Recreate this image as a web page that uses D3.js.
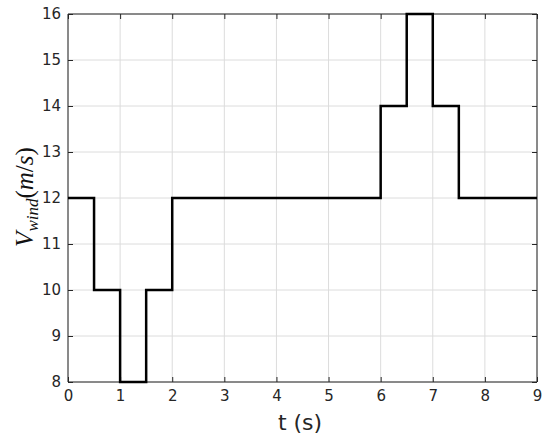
<!DOCTYPE html>
<html><head><meta charset="utf-8">
<script src="https://cdn.jsdelivr.net/npm/d3@7"></script>
<style>body{margin:0;background:#fff}</style>
</head><body>
<svg id="c" width="550" height="440"></svg>
<script>
const times = [0, 0.5, 1, 1.5, 2, 6, 6.5, 7, 7.5, 9];
const speeds = [12, 10, 8, 10, 12, 14, 16, 14, 12, 12];
const xTicks = [0,1,2,3,4,5,6,7,8,9];
const yTicks = [8,9,10,11,12,13,14,15,16];

const svg = d3.select("#c");
const L = 68, R = 537, T = 14, B = 382;
const x = d3.scaleLinear().domain([0,9]).range([L,R]);
const y = d3.scaleLinear().domain([8,16]).range([B,T]);
const axisCol = "#262626";

// grid
const g = svg.append("g");
g.selectAll(".gx").data(xTicks).join("line")
  .attr("x1", d=>x(d)).attr("x2", d=>x(d)).attr("y1", T).attr("y2", B)
  .attr("stroke", "#dcdcdc").attr("stroke-width", 1);
g.selectAll(".gy").data(yTicks).join("line")
  .attr("y1", d=>y(d)).attr("y2", d=>y(d)).attr("x1", L).attr("x2", R)
  .attr("stroke", "#dcdcdc").attr("stroke-width", 1);

// axes
const fnt = "'DejaVu Sans', sans-serif";
const ax = svg.append("g").attr("transform", `translate(0,${B})`)
  .call(d3.axisBottom(x).tickValues(xTicks).tickSize(-5).tickPadding(8).tickFormat(d3.format("d")));
const axT = svg.append("g").attr("transform", `translate(0,${T})`)
  .call(d3.axisTop(x).tickValues(xTicks).tickSize(-5).tickFormat(""));
const ay = svg.append("g").attr("transform", `translate(${L},0)`)
  .call(d3.axisLeft(y).tickValues(yTicks).tickSize(-5).tickPadding(7).tickFormat(d3.format("d")));
const ayR = svg.append("g").attr("transform", `translate(${R},0)`)
  .call(d3.axisRight(y).tickValues(yTicks).tickSize(-5).tickFormat(""));
[ax, axT, ay, ayR].forEach(a => {
  a.select(".domain").attr("stroke", axisCol).attr("stroke-width", 1).attr("d", a===ax||a===axT ? `M${L},0H${R}` : `M0,${T}V${B}`);
  a.selectAll(".tick line").attr("stroke", axisCol);
  a.selectAll(".tick text").attr("fill", axisCol).style("font-family", fnt).style("font-size", "15px");
});

// line
const line = d3.line().x((d,i)=>x(times[i])).y(d=>y(d)).curve(d3.curveStepAfter);
svg.append("path").datum(speeds).attr("d", line)
  .attr("fill", "none").attr("stroke", "#000").attr("stroke-width", 2.5);

// labels
svg.append("text").attr("x", 300).attr("y", 430).attr("text-anchor", "middle")
  .style("font-family", fnt).style("font-size", "22px").attr("fill", axisCol).text("t (s)");

const yl = svg.append("text").attr("transform", `translate(33,197) rotate(-90)`)
  .attr("text-anchor", "middle").style("font-family", "'Liberation Serif', serif")
  .style("font-size", "25px").attr("fill", "#111");
yl.append("tspan").style("font-style", "italic").text("V");
yl.append("tspan").attr("dy", 5).style("font-style", "italic").style("font-size", "17px").text("wind");
yl.append("tspan").attr("dy", -5).text("(");
yl.append("tspan").style("font-style", "italic").text("m");
yl.append("tspan").text("/");
yl.append("tspan").style("font-style", "italic").text("s");
yl.append("tspan").text(")");
</script>
</body></html>
